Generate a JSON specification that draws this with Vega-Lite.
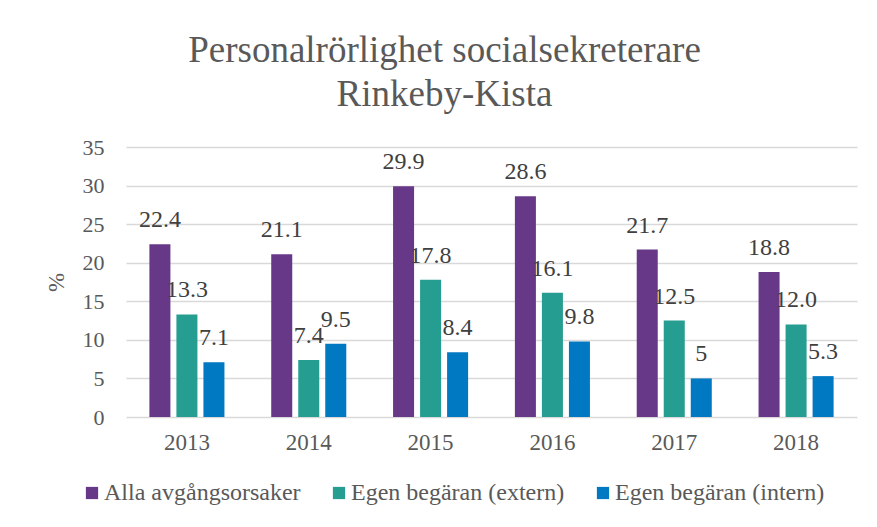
{
  "$schema": "https://vega.github.io/schema/vega-lite/v6.json",
  "width": 731,
  "height": 270,
  "autosize": {"type": "none"},
  "padding": {"left": 126, "top": 147, "right": 20, "bottom": 110},
  "background": "white",
  "config": {"view": {"stroke": null}, "font": "Liberation Serif"},
  "title": {
    "text": ["Personalrörlighet socialsekreterare", "Rinkeby-Kista"],
    "font": "Liberation Serif",
    "fontSize": 37,
    "fontWeight": "normal",
    "color": "#595959",
    "anchor": "middle",
    "frame": "group",
    "dx": -47,
    "offset": 22,
    "lineHeight": 44
  },
  "data": {
    "values": [
      {"year": "2013", "series": "Alla avgångsorsaker", "value": 22.4, "label": "22.4"},
      {"year": "2013", "series": "Egen begäran (extern)", "value": 13.3, "label": "13.3"},
      {"year": "2013", "series": "Egen begäran (intern)", "value": 7.1, "label": "7.1"},
      {"year": "2014", "series": "Alla avgångsorsaker", "value": 21.1, "label": "21.1"},
      {"year": "2014", "series": "Egen begäran (extern)", "value": 7.4, "label": "7.4"},
      {"year": "2014", "series": "Egen begäran (intern)", "value": 9.5, "label": "9.5"},
      {"year": "2015", "series": "Alla avgångsorsaker", "value": 29.9, "label": "29.9"},
      {"year": "2015", "series": "Egen begäran (extern)", "value": 17.8, "label": "17.8"},
      {"year": "2015", "series": "Egen begäran (intern)", "value": 8.4, "label": "8.4"},
      {"year": "2016", "series": "Alla avgångsorsaker", "value": 28.6, "label": "28.6"},
      {"year": "2016", "series": "Egen begäran (extern)", "value": 16.1, "label": "16.1"},
      {"year": "2016", "series": "Egen begäran (intern)", "value": 9.8, "label": "9.8"},
      {"year": "2017", "series": "Alla avgångsorsaker", "value": 21.7, "label": "21.7"},
      {"year": "2017", "series": "Egen begäran (extern)", "value": 12.5, "label": "12.5"},
      {"year": "2017", "series": "Egen begäran (intern)", "value": 5, "label": "5"},
      {"year": "2018", "series": "Alla avgångsorsaker", "value": 18.8, "label": "18.8"},
      {"year": "2018", "series": "Egen begäran (extern)", "value": 12.0, "label": "12.0"},
      {"year": "2018", "series": "Egen begäran (intern)", "value": 5.3, "label": "5.3"}
    ]
  },
  "encoding": {
    "x": {
      "field": "year",
      "type": "nominal",
      "scale": {"paddingInner": 0.384, "paddingOuter": 0.192},
      "axis": {
        "title": null,
        "labelAngle": 0,
        "labelFont": "Liberation Serif",
        "labelFontSize": 23,
        "labelColor": "#595959",
        "labelPadding": 14,
        "domain": false,
        "ticks": false,
        "grid": false
      }
    },
    "xOffset": {
      "field": "series",
      "type": "nominal",
      "sort": ["Alla avgångsorsaker", "Egen begäran (extern)", "Egen begäran (intern)"],
      "scale": {"paddingInner": 0.222, "paddingOuter": 0}
    },
    "y": {
      "field": "value",
      "type": "quantitative",
      "scale": {"domain": [0, 35], "nice": false},
      "axis": {
        "title": "%",
        "titleFont": "Liberation Serif",
        "titleFontSize": 23,
        "titleFontWeight": "normal",
        "titleColor": "#595959",
        "titlePadding": 14,
        "values": [0, 5, 10, 15, 20, 25, 30, 35],
        "labelFont": "Liberation Serif",
        "labelFontSize": 22,
        "labelColor": "#595959",
        "labelPadding": 22,
        "domain": false,
        "ticks": false,
        "grid": true,
        "gridColor": "#D9D9D9",
        "gridWidth": 1.5
      }
    }
  },
  "layer": [
    {
      "mark": {"type": "bar"},
      "encoding": {
        "color": {
          "field": "series",
          "type": "nominal",
          "sort": ["Alla avgångsorsaker", "Egen begäran (extern)", "Egen begäran (intern)"],
          "scale": {
            "domain": ["Alla avgångsorsaker", "Egen begäran (extern)", "Egen begäran (intern)"],
            "range": ["#673888", "#269D91", "#0078C2"]
          },
          "legend": {
            "title": null,
            "orient": "none",
            "direction": "horizontal",
            "legendX": -46,
            "legendY": 334,
            "symbolType": "square",
            "symbolSize": 150,
            "symbolStrokeWidth": 0,
            "labelFont": "Liberation Serif",
            "labelFontSize": 24,
            "labelColor": "#595959",
            "labelOffset": 0,
            "columnPadding": 26,
            "labelLimit": 400
          }
        }
      }
    },
    {
      "mark": {
        "type": "text",
        "baseline": "alphabetic",
        "dy": -17,
        "font": "Liberation Serif",
        "fontSize": 24,
        "color": "#404040"
      },
      "encoding": {
        "text": {"field": "label", "type": "nominal"}
      }
    }
  ]
}
